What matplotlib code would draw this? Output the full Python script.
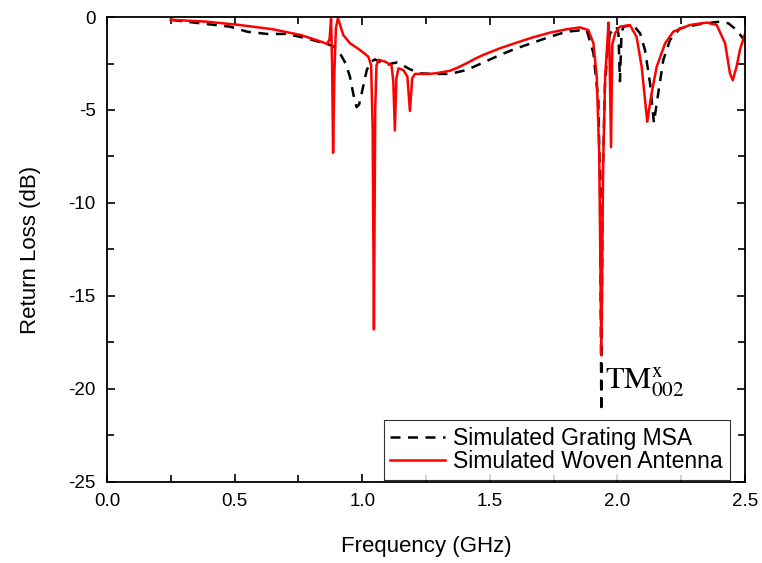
import matplotlib
matplotlib.use("Agg")
import matplotlib.pyplot as plt
from matplotlib.ticker import MultipleLocator, FormatStrFormatter

plt.rcParams['font.family'] = ['Liberation Sans', 'DejaVu Sans']
plt.rcParams['mathtext.fontset'] = 'stix'
plt.rcParams['axes.unicode_minus'] = False

# Simulated Grating MSA
freq_grating = [0.255, 0.392, 0.482, 0.549, 0.627, 0.705, 0.784, 0.849, 0.867, 0.89,
                0.913, 0.935, 0.952, 0.966, 0.978, 0.988, 0.998, 1.018, 1.035, 1.05,
                1.075, 1.096, 1.115, 1.135, 1.16, 1.187, 1.226, 1.278, 1.344, 1.409,
                1.474, 1.54, 1.605, 1.67, 1.736, 1.801, 1.866, 1.88, 1.906, 1.925,
                1.932, 1.937, 1.942, 1.951, 1.962, 1.971, 1.997, 2.004, 2.01, 2.016,
                2.023, 2.062, 2.089, 2.108, 2.128, 2.143, 2.16, 2.18, 2.206, 2.245,
                2.324, 2.402, 2.435, 2.467, 2.487, 2.5]
rl_grating = [-0.16, -0.38, -0.52, -0.79, -0.91, -0.91, -1.15, -1.41, -1.47, -1.6,
              -1.95, -2.5, -3.21, -4.2, -4.85, -4.7, -4.1, -2.85, -2.4, -2.28,
              -2.45, -2.58, -2.5, -2.45, -2.6, -2.81, -3.03, -3.06, -3.06, -2.85,
              -2.45, -2.04, -1.68, -1.38, -1.06, -0.79, -0.70, -0.72, -1.94, -4.46,
              -9.0, -21.2, -9.0, -3.75, -1.6, -0.88, -0.52, -0.9, -3.45, -0.9,
              -0.52, -0.43, -0.88, -1.77, -3.57, -5.68, -4.1, -2.31, -1.24, -0.61,
              -0.38, -0.25, -0.34, -0.70, -1.06, -1.3]

# Simulated Woven Antenna
freq_woven = [0.25, 0.39, 0.52, 0.65, 0.76, 0.84, 0.862, 0.872, 0.878, 0.882,
              0.886, 0.891, 0.897, 0.905, 0.915, 0.926, 0.952, 0.991, 1.024, 1.035,
              1.041, 1.046, 1.051, 1.056, 1.065, 1.09, 1.115, 1.122, 1.128, 1.134,
              1.142, 1.161, 1.177, 1.187, 1.196, 1.207, 1.266, 1.3, 1.344, 1.375,
              1.409, 1.44, 1.474, 1.54, 1.605, 1.67, 1.736, 1.801, 1.853, 1.886,
              1.906, 1.919, 1.929, 1.937, 1.944, 1.952, 1.96, 1.965, 1.969, 1.975,
              1.98, 1.991, 2.01, 2.049, 2.075, 2.095, 2.117, 2.134, 2.154, 2.187,
              2.219, 2.284, 2.35, 2.389, 2.422, 2.441, 2.452, 2.467, 2.48, 2.5]
rl_woven = [-0.15, -0.25, -0.43, -0.66, -0.97, -1.33, -1.45, -1.2, -0.1, -2.5,
            -7.3, -3.0, -0.6, -0.05, -0.5, -0.97, -1.41, -1.77, -2.13, -2.6,
            -6.0, -16.8, -5.0, -2.6, -2.3, -2.4, -2.6, -3.5, -6.1, -3.3,
            -2.76, -2.85, -3.2, -5.05, -3.3, -3.06, -3.06, -3.0, -2.89, -2.72,
            -2.49, -2.26, -2.04, -1.68, -1.38, -1.09, -0.84, -0.66, -0.56, -0.70,
            -1.41, -3.21, -7.5, -18.2, -8.0, -3.2, -1.5, -0.3, -1.8, -7.0,
            -1.5, -0.87, -0.52, -0.43, -1.06, -2.67, -5.63, -4.1, -2.67, -1.41,
            -0.79, -0.43, -0.30, -0.43, -1.41, -3.03, -3.4, -2.67, -1.77, -0.9]

fig = plt.figure(figsize=(7.62, 5.63), dpi=100)
ax = fig.add_axes([0.1404, 0.1439, 0.8373, 0.8259])

ax.plot(freq_grating, rl_grating, color='black', lw=1.8, ls=(0, (4, 3)),
        label='Simulated Grating MSA')
ax.plot(freq_woven, rl_woven, color='red', lw=1.8, label='Simulated Woven Antenna')

ax.set_xlim(0, 2.5)
ax.set_ylim(-25, 0)
ax.xaxis.set_major_locator(MultipleLocator(0.5))
ax.xaxis.set_minor_locator(MultipleLocator(0.25))
ax.yaxis.set_major_locator(MultipleLocator(5))
ax.yaxis.set_minor_locator(MultipleLocator(2.5))
ax.xaxis.set_major_formatter(FormatStrFormatter('%.1f'))
ax.tick_params(which='both', direction='in', top=True, right=True, width=1.2,
               labelsize=13.5, pad=8)
ax.tick_params(which='major', length=6)
ax.tick_params(which='minor', length=5)
for s in ax.spines.values():
    s.set_linewidth(1.3)

ax.set_xlabel('Frequency (GHz)', fontsize=16, labelpad=19)
ax.set_ylabel('Return Loss (dB)', fontsize=16, labelpad=20)

ax.text(1.951, -19.95, r'$\mathrm{TM}_{002}^{\mathrm{x}}$', fontsize=22,
        va='baseline', ha='left')

leg = ax.legend(loc='lower right', bbox_to_anchor=(0.98, 0.0), fontsize=16.5,
                frameon=True, fancybox=False, edgecolor='black', borderpad=0.3,
                labelspacing=0.0, handlelength=2.4, handletextpad=0.35,
                borderaxespad=0.1)
leg.get_frame().set_linewidth(0.8)

fig.savefig('out.png', dpi=100)
